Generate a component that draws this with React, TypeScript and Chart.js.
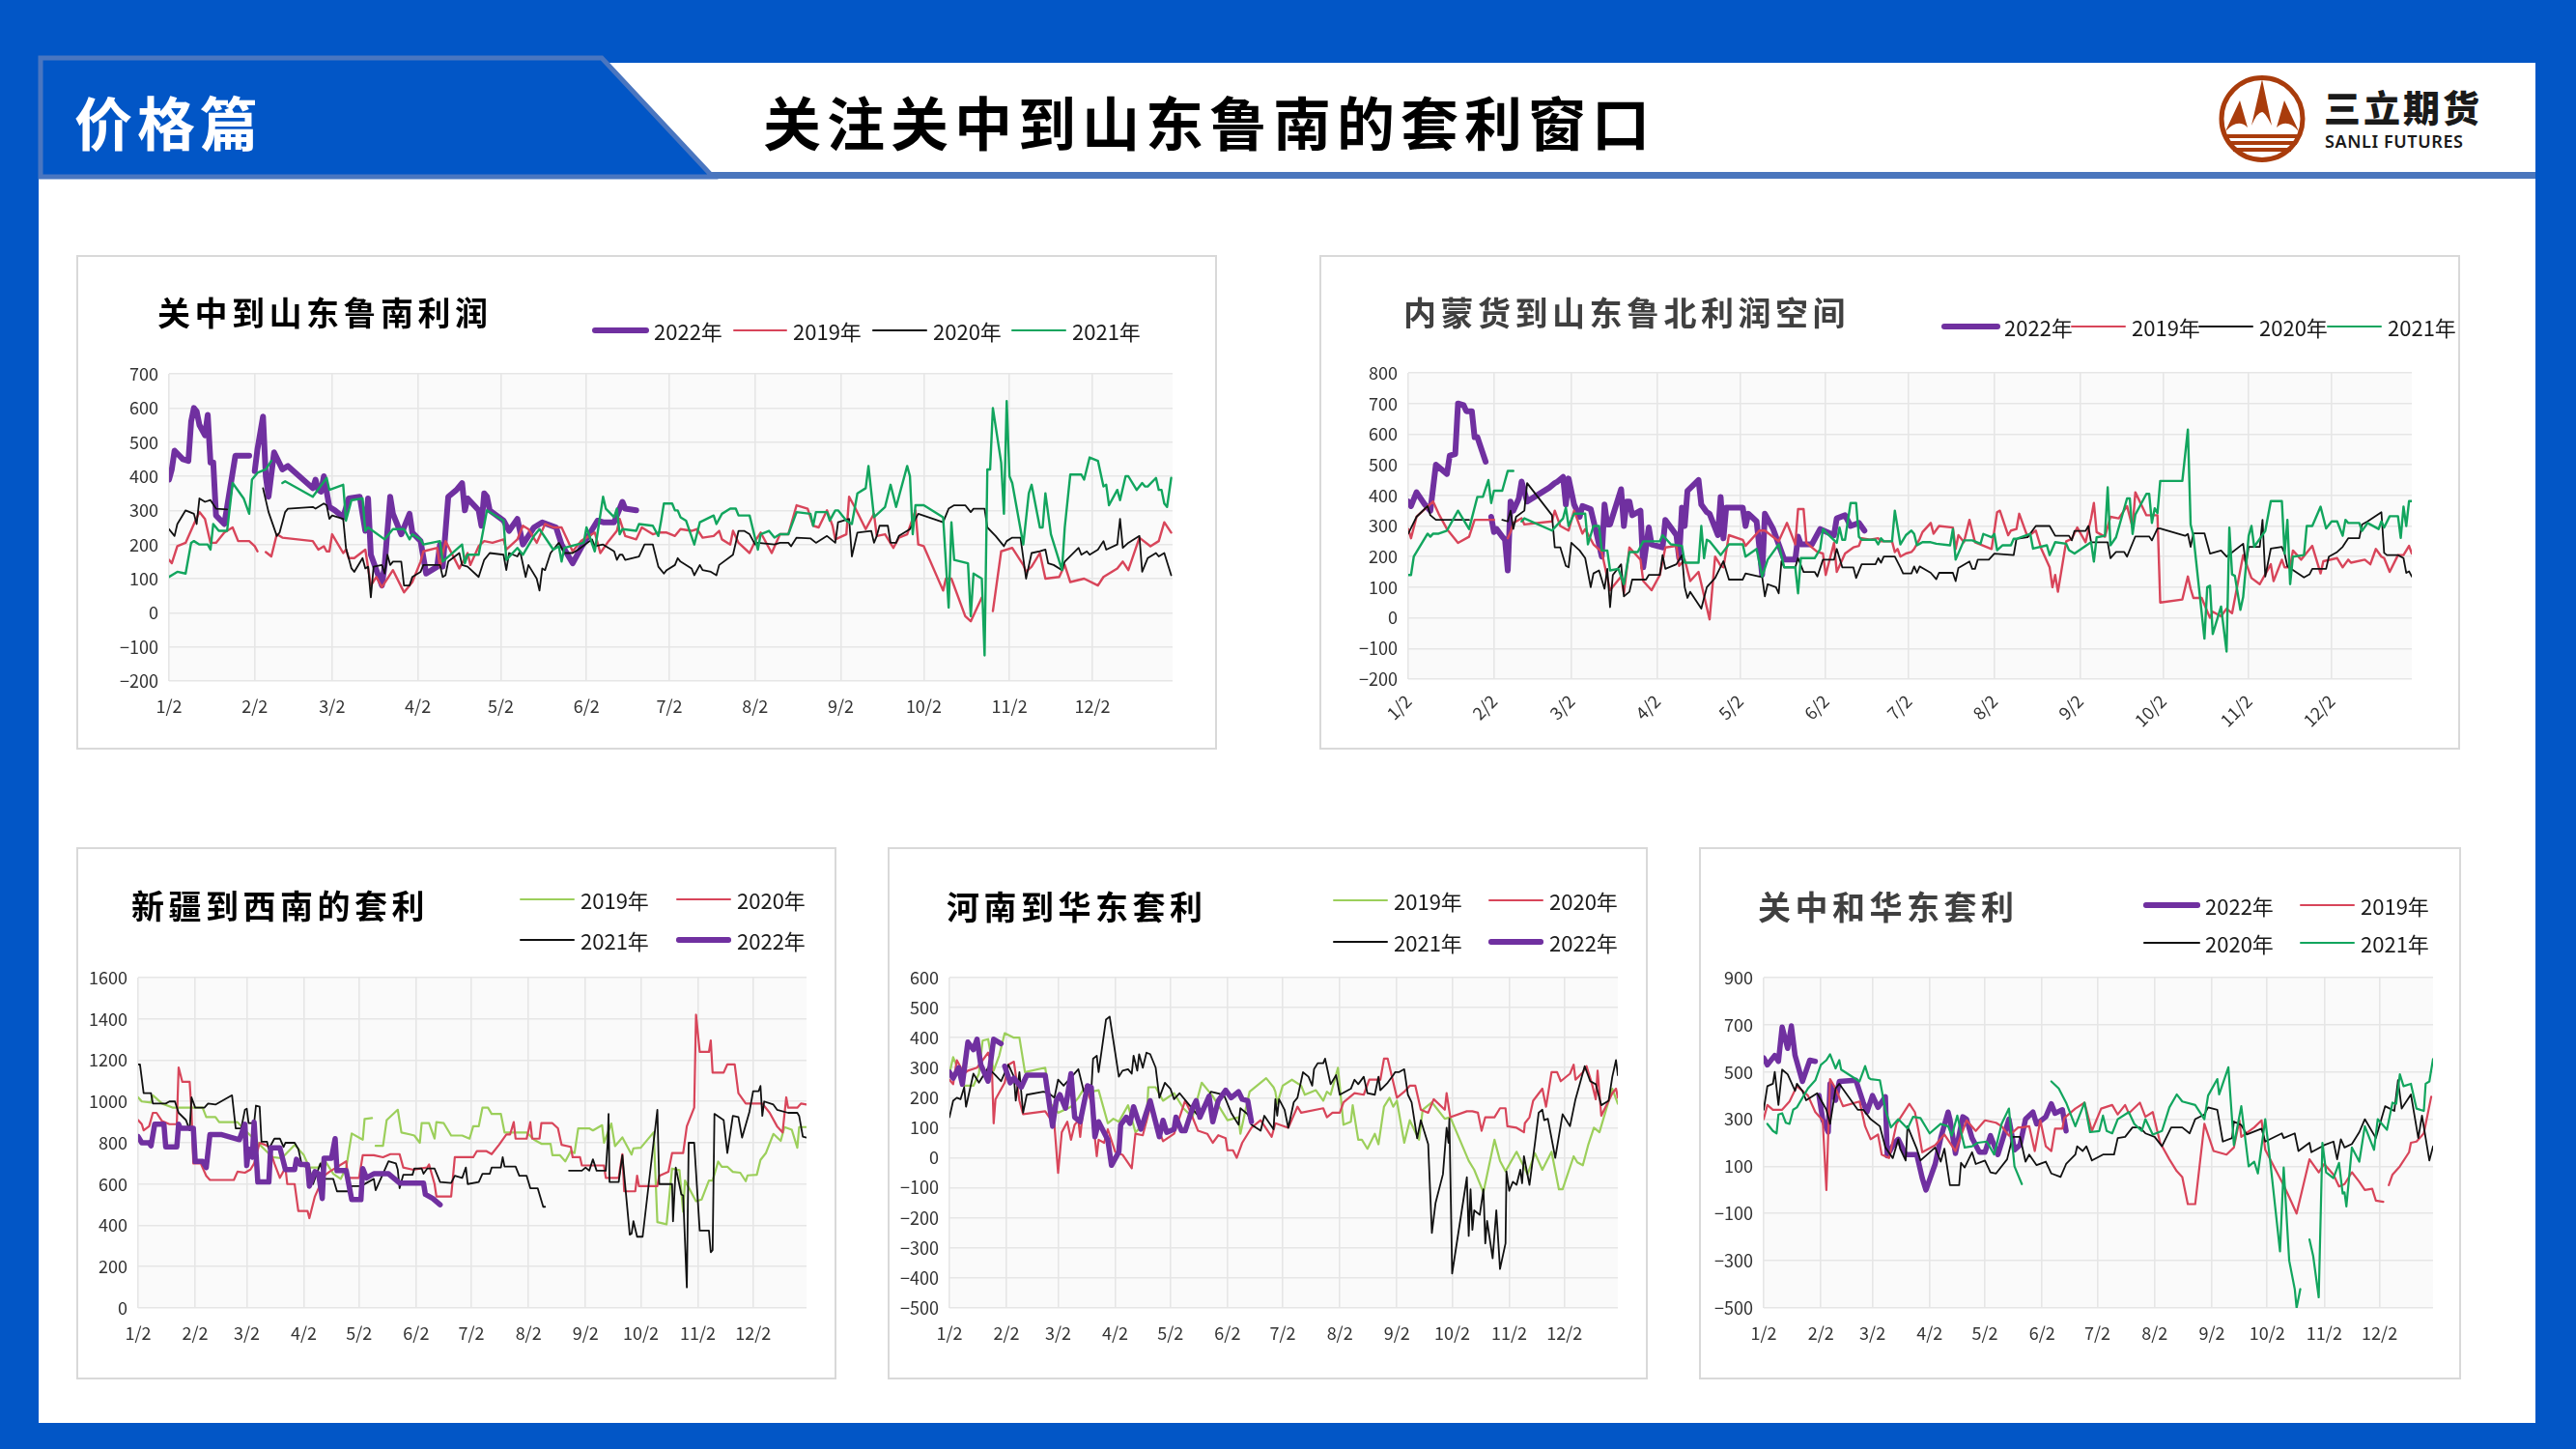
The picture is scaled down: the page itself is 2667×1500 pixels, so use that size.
import React, { useEffect, useRef } from "react";
import { Chart, registerables } from "chart.js";

Chart.register(...registerables);

type Pt = [number, number | null];

const monthDays = [0, 31, 59, 90, 120, 151, 181, 212, 243, 273, 304, 334];
const monthLabels = ["1/2", "2/2", "3/2", "4/2", "5/2", "6/2", "7/2", "8/2", "9/2", "10/2", "11/2", "12/2"];
const lastDay = 363;

const yTicksA = [-200, -100, 0, 100, 200, 300, 400, 500, 600, 700];
const yTicksB = [-200, -100, 0, 100, 200, 300, 400, 500, 600, 700, 800];
const yTicksC = [0, 200, 400, 600, 800, 1000, 1200, 1400, 1600];
const yTicksD = [-500, -400, -300, -200, -100, 0, 100, 200, 300, 400, 500, 600];
const yTicksE = [-500, -300, -100, 100, 300, 500, 700, 900];

/* ---------- 关中到山东鲁南利润 ---------- */
const a2022: Pt[] = [[0,390],[1,420],[2,475],[5,450],[7,445],[8,560],[9,600],[10,590],[11,550],[13,520],[14,580],[15,440],[16,440],[17,285],[20,260],[24,460],[29,460],[30,null],[31,415],[32,480],[34,575],[35,400],[36,340],[38,470],[41,420],[43,430],[52,365],[53,390],[54,360],[55,355],[56,400],[58,310],[60,300],[63,280],[65,335],[69,340],[71,240],[72,335],[73,170],[77,80],[78,140],[80,340],[81,290],[84,230],[87,290],[88,235],[91,210],[93,115],[97,135],[98,200],[99,135],[101,340],[104,360],[106,380],[107,300],[108,335],[112,300],[113,255],[114,350],[115,340],[116,300],[121,270],[123,240],[126,275],[128,200],[132,250],[135,265],[140,250],[142,200],[146,145],[149,190],[155,270],[157,265],[161,265],[164,325],[165,305],[169,300]];
const a2019: Pt[] = [[0,155],[1,145],[3,195],[6,205],[9,260],[11,295],[13,275],[15,205],[17,205],[20,235],[23,250],[25,210],[29,210],[31,195],[32,180],[33,null],[35,178],[37,165],[39,230],[41,220],[52,210],[54,185],[56,195],[57,180],[58,180],[59,230],[63,175],[64,185],[65,160],[67,160],[71,185],[73,80],[75,105],[77,75],[81,125],[85,60],[88,90],[91,150],[92,180],[97,190],[98,135],[100,210],[105,130],[108,175],[109,140],[112,195],[114,210],[117,205],[121,215],[122,185],[126,215],[128,255],[130,245],[133,205],[136,260],[139,250],[142,250],[146,180],[149,210],[154,235],[156,175],[159,210],[162,240],[163,275],[165,225],[169,215],[171,250],[175,230],[177,235],[180,235],[183,225],[185,245],[189,240],[191,245],[193,220],[197,225],[199,240],[200,215],[203,200],[204,240],[206,205],[210,175],[212,210],[214,235],[218,175],[221,230],[224,230],[227,315],[231,305],[233,255],[235,250],[238,300],[240,255],[241,215],[245,230],[246,340],[248,310],[252,245],[255,290],[256,225],[259,230],[262,190],[264,220],[267,230],[270,300],[271,200],[273,195],[280,65],[281,100],[283,100],[288,-10],[290,-25],[294,45],[296,null],[298,5],[301,180],[305,190],[309,140],[310,120],[312,135],[315,175],[317,100],[322,105],[324,140],[326,90],[331,100],[336,80],[338,105],[343,130],[345,150],[347,125],[351,220],[355,195],[358,210],[360,265],[362.5,235]];
const a2020: Pt[] = [[0,245],[2,225],[3,260],[6,300],[9,290],[10,260],[11,335],[13,325],[15,330],[17,305],[21,303],[28,null],[34,365],[36,295],[39,225],[40,235],[42,295],[43,305],[52,310],[53,305],[56,320],[57,315],[58,275],[59,285],[63,275],[64,190],[66,130],[67,120],[70,160],[71,130],[72,135],[73,45],[74,135],[77,140],[78,115],[79,170],[80,140],[81,150],[84,150],[85,80],[87,80],[88,105],[91,120],[92,140],[98,140],[99,105],[100,110],[101,150],[105,175],[106,140],[108,135],[112,105],[114,155],[116,175],[121,170],[122,125],[123,175],[126,165],[127,180],[129,105],[130,140],[133,100],[134,65],[135,130],[136,125],[138,175],[141,205],[143,175],[146,175],[148,185],[153,215],[154,195],[157,200],[161,180],[162,155],[163,170],[164,170],[165,155],[170,165],[172,200],[175,200],[177,135],[179,115],[180,125],[183,140],[184,160],[185,150],[189,130],[190,110],[192,140],[193,125],[196,120],[198,110],[199,140],[204,170],[206,240],[208,240],[210,230],[212,200],[213,205],[219,200],[221,205],[224,205],[225,195],[227,220],[232,218],[234,205],[238,225],[241,205],[242,265],[246,275],[247,165],[249,235],[254,240],[255,205],[256,225],[257,255],[260,255],[261,205],[263,205],[264,225],[268,245],[269,260],[271,290],[280,265],[282,305],[284,315],[288,315],[290,295],[291,305],[295,305],[296,250],[299,225],[302,195],[303,210],[305,220],[308,220],[310,100],[312,175],[315,180],[317,185],[318,145],[320,140],[323,125],[324,150],[329,190],[330,170],[332,180],[333,170],[336,185],[338,210],[339,185],[343,200],[344,275],[345,190],[347,205],[351,225],[352,120],[354,160],[357,175],[358,165],[360,175],[362.5,110]];
const a2021: Pt[] = [[0,105],[3,120],[6,115],[8,205],[9,210],[11,200],[14,200],[15,185],[16,260],[18,240],[21,240],[23,380],[27,335],[29,290],[30,390],[32,410],[35,420],[37,445],[39,null],[41,380],[42,385],[52,340],[57,395],[58,360],[63,375],[64,270],[66,330],[70,335],[71,240],[72,250],[78,215],[81,245],[85,245],[87,215],[88,230],[91,215],[92,200],[98,210],[99,150],[106,200],[107,145],[108,170],[112,170],[115,300],[121,270],[122,155],[126,190],[128,170],[132,225],[134,245],[139,185],[141,195],[142,150],[143,190],[150,205],[151,250],[154,180],[157,340],[158,305],[161,280],[162,305],[163,230],[164,245],[169,240],[170,260],[175,255],[177,225],[178,270],[179,320],[180,320],[182,320],[183,300],[184,300],[185,280],[187,270],[190,200],[192,265],[197,285],[198,260],[200,290],[203,305],[205,305],[206,285],[210,285],[213,185],[214,230],[217,240],[219,220],[221,230],[224,230],[227,295],[232,290],[233,255],[234,295],[238,295],[239,270],[241,300],[242,300],[245,270],[247,260],[249,350],[252,365],[253,430],[255,280],[259,310],[261,375],[263,310],[267,430],[268,400],[269,230],[270,315],[273,315],[280,280],[282,15],[283,265],[284,155],[289,145],[290,-10],[291,115],[294,100],[295,-125],[296,420],[297,420],[298,600],[301,440],[302,290],[303,620],[304,400],[305,380],[309,200],[311,350],[312,375],[315,250],[316,250],[317,350],[319,230],[323,125],[324,250],[326,405],[330,405],[331,390],[333,455],[336,445],[338,370],[339,375],[340,315],[343,360],[344,330],[346,400],[347,400],[350,360],[352,380],[353,370],[354,370],[357,395],[358,360],[359,360],[360,320],[361,310],[362.5,395]];

/* ---------- 内蒙货到山东鲁北利润空间 ---------- */
const b2022: Pt[] = [[0,380],[1,365],[3,410],[6,370],[8,350],[10,500],[14,470],[15,530],[17,535],[18,700],[20,695],[21,675],[23,675],[24,590],[25,590],[28,510],[29,null],[30,330],[31,280],[32,290],[34,265],[35,255],[36,155],[37,380],[38,350],[40,390],[41,445],[43,380],[51,425],[53,440],[54,445],[56,460],[57,370],[58,455],[60,370],[62,330],[63,365],[66,355],[68,280],[70,200],[71,370],[72,305],[73,305],[77,420],[78,300],[79,380],[80,380],[81,335],[84,350],[85,165],[87,295],[88,240],[92,230],[93,320],[97,270],[98,195],[99,360],[100,300],[101,415],[105,450],[106,370],[108,345],[109,340],[112,270],[113,395],[114,260],[115,360],[121,360],[122,300],[123,340],[126,315],[127,230],[128,140],[129,340],[132,290],[134,240],[136,190],[140,190],[141,265],[142,240],[146,240],[149,290],[154,270],[155,325],[158,335],[160,300],[163,310],[165,285]];
const b2019: Pt[] = [[0,290],[1,260],[3,330],[9,380],[11,340],[14,290],[18,245],[22,265],[24,320],[31,320],[33,null],[36,260],[37,280],[38,310],[41,325],[42,305],[52,315],[53,350],[55,300],[58,285],[60,350],[63,275],[64,290],[67,240],[70,215],[73,90],[77,135],[78,80],[80,230],[84,190],[85,120],[88,90],[91,140],[93,230],[97,235],[98,170],[100,190],[102,120],[105,150],[109,-5],[111,200],[113,170],[114,165],[116,270],[121,255],[122,235],[127,285],[129,285],[134,250],[137,310],[140,240],[141,355],[143,355],[144,245],[148,215],[150,210],[151,140],[154,245],[155,150],[158,210],[161,230],[163,235],[164,260],[167,255],[170,260],[171,250],[175,250],[176,215],[177,225],[178,200],[180,210],[182,215],[183,225],[185,258],[186,280],[189,310],[190,275],[192,300],[197,295],[198,225],[199,270],[201,247],[203,320],[205,247],[211,225],[213,345],[214,350],[217,270],[218,285],[220,290],[221,340],[224,265],[227,285],[229,225],[232,165],[233,100],[234,140],[235,85],[238,250],[240,258],[242,295],[245,247],[247,325],[248,375],[249,280],[252,265],[254,330],[257,325],[260,365],[262,295],[263,410],[267,335],[271,335],[272,50],[280,60],[282,135],[283,95],[284,65],[287,65],[290,0],[291,20],[294,5],[296,30],[298,15],[302,205],[305,130],[308,110],[312,175],[313,120],[316,190],[317,165],[319,165],[320,220],[323,190],[327,235],[330,145],[331,185],[336,195],[338,165],[340,190],[341,180],[346,190],[348,175],[350,225],[352,200],[353,195],[355,150],[358,205],[360,205],[362,235],[363,210]];
const b2020: Pt[] = [[0,275],[3,330],[7,365],[8,335],[10,320],[22,320],[28,null],[34,320],[36,315],[37,350],[38,290],[39,330],[42,350],[43,440],[52,335],[53,230],[55,230],[57,170],[58,165],[59,245],[62,220],[64,195],[66,100],[67,145],[69,155],[71,95],[72,160],[73,35],[74,140],[77,175],[78,70],[80,85],[81,125],[86,125],[87,140],[91,140],[92,205],[93,160],[97,175],[99,205],[100,100],[101,65],[102,85],[106,30],[108,100],[111,130],[114,185],[116,125],[121,125],[122,145],[127,135],[128,135],[129,70],[130,110],[133,100],[134,80],[135,185],[136,165],[140,165],[141,195],[143,150],[147,150],[148,135],[150,190],[154,190],[155,225],[157,165],[161,165],[162,130],[164,175],[169,175],[170,195],[171,180],[172,200],[176,200],[178,165],[179,145],[182,145],[183,168],[184,147],[185,168],[186,163],[189,147],[191,126],[192,147],[197,147],[198,120],[199,163],[203,184],[204,160],[205,160],[206,190],[210,190],[212,210],[219,205],[220,258],[224,263],[227,300],[232,300],[234,268],[239,268],[240,253],[241,284],[245,284],[246,300],[247,247],[253,247],[254,195],[256,215],[259,215],[260,200],[263,266],[268,266],[269,253],[271,292],[272,292],[281,268],[282,274],[283,232],[284,276],[288,276],[290,210],[294,220],[296,200],[302,242],[303,174],[304,232],[308,232],[309,320],[310,135],[312,226],[316,232],[317,210],[318,168],[324,132],[326,142],[327,160],[332,160],[333,200],[336,215],[338,232],[340,260],[344,260],[345,305],[347,315],[352,345],[353,212],[354,205],[358,205],[360,195],[361,147],[362,152],[363,135]];
const b2021: Pt[] = [[0,140],[1,140],[2,200],[7,275],[8,265],[9,275],[11,275],[14,285],[18,350],[22,290],[25,395],[27,395],[29,450],[30,375],[31,415],[34,415],[36,480],[38,480],[39,null],[41,315],[42,325],[52,285],[56,325],[57,360],[58,300],[60,340],[64,340],[65,240],[67,300],[69,300],[70,220],[72,220],[73,155],[76,160],[78,110],[80,215],[83,215],[85,250],[91,250],[92,270],[95,240],[99,235],[100,180],[105,180],[106,300],[107,195],[108,255],[109,250],[113,205],[116,240],[121,240],[122,200],[126,225],[128,135],[130,190],[134,240],[136,165],[140,165],[141,80],[142,195],[147,195],[149,225],[150,290],[151,280],[155,245],[156,295],[157,255],[158,255],[160,375],[162,375],[163,265],[164,255],[169,255],[170,240],[171,260],[172,250],[175,250],[176,350],[178,240],[180,270],[182,285],[183,274],[184,237],[185,242],[186,247],[189,247],[191,242],[196,237],[197,290],[198,190],[201,253],[204,253],[207,242],[208,274],[211,263],[212,274],[213,221],[215,237],[218,237],[219,258],[220,258],[225,274],[226,226],[231,237],[232,205],[234,247],[238,242],[239,221],[241,210],[247,247],[248,184],[249,263],[252,268],[253,426],[254,237],[256,263],[260,390],[261,390],[262,274],[263,337],[267,405],[268,405],[269,310],[270,358],[271,342],[272,447],[280,447],[282,615],[283,305],[284,268],[288,-68],[289,100],[290,105],[291,-53],[294,37],[296,-110],[297,295],[298,142],[299,137],[301,26],[302,68],[304,268],[305,300],[306,232],[310,284],[312,381],[316,381],[317,210],[318,320],[319,110],[320,200],[324,205],[325,300],[327,300],[330,363],[332,292],[334,315],[336,315],[338,268],[339,320],[340,310],[344,310],[345,284],[347,310],[351,290],[352,315],[353,295],[355,332],[358,332],[359,261],[360,363],[361,300],[362,381],[363,381]];

/* ---------- 新疆到西南的套利 ---------- */
const c2019: Pt[] = [[0,1020],[2,1000],[7,995],[8,1030],[13,990],[19,970],[35,970],[37,925],[42,925],[44,900],[54,900],[57,870],[65,800],[73,730],[78,725],[85,790],[90,740],[93,680],[98,680],[101,720],[106,650],[110,625],[113,680],[116,845],[121,820],[122,815],[123,915],[127,920],[128,null],[129,785],[133,785],[135,910],[141,960],[143,850],[148,840],[150,835],[153,800],[154,895],[158,895],[161,820],[162,900],[166,895],[170,835],[176,835],[180,820],[182,880],[185,880],[187,970],[190,970],[192,940],[197,940],[199,850],[211,850],[215,815],[219,795],[224,795],[225,740],[229,740],[232,710],[235,760],[237,750],[239,870],[245,870],[247,860],[252,885],[253,800],[257,893],[259,784],[263,826],[268,743],[269,773],[273,776],[280,851],[282,416],[287,405],[290,675],[294,667],[296,466],[297,617],[303,517],[306,525],[310,617],[312,617],[315,709],[317,684],[320,684],[323,659],[327,655],[330,614],[331,642],[336,645],[338,717],[341,751],[345,843],[349,809],[351,876],[355,863],[358,776],[359,876],[363,876]];
const c2020: Pt[] = [[0,910],[2,890],[3,860],[6,880],[8,945],[10,945],[13,905],[17,890],[21,890],[22,1165],[24,1095],[28,1095],[29,950],[30,700],[34,700],[37,640],[39,620],[52,620],[54,660],[58,655],[61,670],[63,700],[66,800],[69,790],[71,780],[74,700],[77,630],[80,680],[81,600],[85,600],[87,470],[92,470],[93,435],[96,540],[101,640],[104,660],[113,710],[114,630],[120,630],[122,740],[128,740],[133,730],[137,745],[142,745],[144,680],[149,670],[157,680],[158,695],[161,600],[162,540],[170,540],[172,730],[178,730],[182,730],[184,760],[189,760],[192,745],[196,790],[200,840],[202,840],[204,900],[205,820],[211,820],[213,900],[214,820],[218,820],[219,895],[225,895],[228,870],[230,790],[235,780],[236,730],[240,730],[241,690],[253,690],[254,630],[261,630],[263,745],[264,565],[270,565],[271,640],[272,590],[282,590],[283,640],[288,660],[290,750],[296,750],[298,880],[302,970],[303,1420],[305,1240],[310,1240],[311,1295],[312,1140],[318,1140],[320,1180],[324,1180],[326,1040],[330,990],[339,990],[343,945],[347,880],[350,850],[352,1020],[353,970],[358,970],[360,990],[363,985]];
const c2021: Pt[] = [[0,1180],[1,1180],[3,1040],[7,1040],[8,990],[15,990],[17,1000],[20,1000],[22,945],[26,910],[28,860],[29,1020],[31,970],[36,970],[38,990],[42,985],[51,1030],[53,870],[56,870],[58,960],[59,965],[60,895],[63,895],[64,980],[66,975],[67,805],[70,805],[71,770],[74,820],[77,820],[79,780],[80,800],[85,800],[87,770],[89,690],[93,680],[95,600],[99,700],[101,625],[106,625],[108,565],[114,565],[116,590],[121,590],[128,625],[129,570],[136,710],[140,700],[141,670],[142,580],[144,645],[149,645],[150,675],[154,675],[155,650],[157,675],[161,675],[164,610],[170,605],[172,640],[176,630],[178,680],[179,600],[185,610],[187,650],[191,650],[192,680],[197,680],[198,730],[199,685],[205,685],[207,640],[211,640],[213,580],[217,580],[220,490],[221,490],[228,null],[234,665],[241,665],[243,680],[245,665],[247,720],[249,665],[254,665],[255,800],[255.5,940],[256,610],[261,610],[263,740],[267,355],[268,360],[269,420],[271,345],[274,345],[282,960],[283,600],[290,600],[290.5,420],[292,680],[295,550],[296,545],[298,100],[299,800],[302,800],[305,375],[310,375],[311,270],[312,280],[313,940],[318,910],[320,750],[323,930],[326,925],[328,825],[332,950],[334,1050],[337,1050],[338,1075],[339,930],[340,1000],[345,985],[347,960],[353,945],[358,945],[359,930],[361,830],[363,825]];
const c2022: Pt[] = [[0,830],[2,800],[6,800],[7,785],[9,890],[14,890],[15,780],[21,780],[22,890],[23,870],[30,870],[31,710],[35,710],[37,680],[39,840],[45,840],[55,815],[58,890],[59,690],[60,770],[62,730],[63,900],[65,610],[71,610],[72,775],[77,775],[80,670],[85,670],[86,720],[88,695],[92,695],[93,590],[96,660],[98,650],[100,530],[101,725],[105,725],[107,820],[108,665],[113,665],[116,525],[121,525],[122,675],[124,630],[128,650],[136,650],[142,605],[155,605],[156,550],[160,530],[164,500]];

/* ---------- 河南到华东套利 ---------- */
const d2019: Pt[] = [[0,280],[2,335],[5,290],[8,240],[13,240],[16,280],[18,390],[21,395],[24,290],[27,340],[30,415],[35,400],[38,400],[41,285],[52,300],[55,180],[59,150],[66,170],[70,200],[73,230],[77,220],[81,225],[86,115],[89,130],[92,120],[97,175],[101,85],[107,120],[108,235],[112,235],[116,190],[122,215],[127,165],[132,135],[137,250],[141,220],[143,205],[151,125],[157,135],[158,80],[161,165],[163,220],[172,265],[176,235],[177,220],[178,180],[181,240],[186,260],[191,240],[193,210],[199,225],[203,190],[205,220],[207,210],[211,300],[214,110],[218,120],[219,175],[222,60],[224,60],[227,30],[231,80],[233,45],[236,170],[239,200],[241,170],[243,190],[247,50],[250,125],[255,60],[257,160],[262,185],[269,130],[272,135],[282,-10],[285,-40],[290,-115],[296,60],[299,-10],[302,-45],[308,20],[314,-55],[318,15],[322,-40],[327,20],[331,-105],[333,-105],[339,5],[341,-15],[344,-25],[347,45],[350,100],[353,85],[360,230],[363,180]];
const d2020: Pt[] = [[0,260],[2,245],[4,325],[8,280],[10,290],[15,300],[21,350],[23,310],[24,115],[25,195],[30,250],[32,310],[35,320],[38,190],[40,145],[52,155],[57,110],[59,-50],[61,85],[64,120],[66,60],[68,110],[70,125],[71,70],[74,240],[77,185],[80,5],[81,60],[84,50],[86,95],[90,20],[94,10],[99,-35],[101,80],[105,75],[109,170],[116,55],[122,80],[128,190],[130,165],[135,90],[140,80],[143,50],[146,75],[150,65],[151,25],[154,25],[156,0],[159,50],[164,100],[169,125],[175,70],[177,115],[184,100],[189,170],[191,150],[203,165],[205,135],[208,150],[212,150],[214,185],[220,215],[225,210],[228,260],[234,260],[236,330],[238,330],[243,200],[247,220],[250,240],[253,240],[256,160],[260,150],[263,195],[269,160],[270,215],[272,135],[281,155],[284,155],[287,150],[289,90],[291,135],[296,135],[299,165],[302,165],[303,105],[308,100],[312,85],[312.5,115],[315,135],[317,190],[322,230],[324,170],[327,285],[330,285],[332,255],[337,280],[339,310],[340,260],[344,285],[346,305],[349,245],[351,195],[352,290],[354,140],[360,215],[362,230],[363,200]];
const d2021: Pt[] = [[0,135],[2,190],[4,200],[6,195],[8,235],[9,170],[13,280],[16,250],[19,280],[21,300],[25,275],[28,255],[32,310],[35,270],[36,190],[38,285],[40,150],[42,210],[51,220],[54,215],[57,200],[59,260],[62,240],[70,295],[73,220],[77,220],[78,330],[80,340],[81,285],[85,460],[87,470],[90,350],[92,270],[94,290],[97,295],[99,280],[100,340],[102,290],[103,345],[105,300],[107,350],[109,345],[112,300],[114,200],[117,250],[120,230],[122,195],[125,215],[131,170],[135,140],[142,220],[149,210],[153,150],[157,110],[158,165],[162,145],[164,110],[169,90],[171,140],[176,95],[177,195],[178,140],[179,195],[182,160],[184,100],[187,185],[189,200],[192,285],[195,270],[197,240],[198,295],[200,315],[203,315],[204,330],[207,245],[210,275],[212,210],[218,230],[220,260],[222,245],[225,270],[227,215],[231,210],[233,270],[234,225],[238,250],[241,275],[242,285],[244,285],[247,295],[249,210],[251,185],[254,65],[256,125],[260,45],[262,-250],[264,-150],[268,-55],[270,100],[271,50],[271.5,130],[273,-385],[281,-65],[282,-260],[283,-105],[284,-240],[285,-175],[288,-190],[290,-105],[291,-285],[292,-210],[295,-335],[297,-175],[299,-370],[302,-285],[302.5,-45],[304,-110],[306,-80],[308,-90],[310,-40],[311,-85],[312,5],[315,-90],[318,50],[320,150],[322,160],[323,125],[325,130],[329,0],[333,145],[337,105],[340,195],[345,305],[348,255],[351,245],[354,175],[358,190],[360,270],[362,325],[363,275]];
const d2022: Pt[] = [[0,285],[2,265],[5,300],[7,245],[10,385],[13,360],[15,395],[17,310],[21,255],[24,395],[28,380],[29,null],[30,305],[33,250],[35,265],[39,235],[42,275],[52,275],[54,190],[56,105],[58,190],[60,210],[63,165],[66,280],[68,135],[71,120],[75,240],[77,235],[79,70],[81,120],[86,60],[88,-25],[92,20],[93,110],[96,135],[98,115],[100,170],[104,95],[109,190],[114,70],[116,125],[118,85],[122,95],[123,135],[126,90],[128,90],[132,165],[134,190],[136,135],[141,205],[143,120],[146,190],[150,225],[153,200],[157,220],[159,195],[162,190],[164,120]];

/* ---------- 关中和华东套利 ---------- */
const e2022: Pt[] = [[0,560],[2,530],[6,570],[8,545],[10,690],[13,600],[15,695],[17,570],[21,460],[25,550],[28,545],[29,null],[30,400],[32,300],[35,245],[36,450],[39,380],[41,460],[50,465],[54,370],[56,330],[59,400],[62,350],[66,395],[67,145],[71,200],[73,215],[77,150],[83,150],[86,50],[88,0],[93,110],[96,220],[100,330],[101,300],[104,155],[108,310],[110,300],[113,220],[117,160],[120,160],[123,230],[127,150],[133,300],[136,170],[139,190],[142,300],[146,330],[148,280],[153,310],[156,365],[158,325],[162,340],[164,250]];
const e2019: Pt[] = [[0,300],[2,360],[5,340],[10,340],[14,375],[18,440],[24,400],[28,330],[32,295],[34,0],[36,470],[39,430],[43,355],[52,375],[55,270],[58,215],[62,235],[64,150],[68,135],[72,280],[79,365],[82,330],[84,250],[86,160],[93,190],[98,235],[104,165],[110,295],[115,250],[120,295],[126,285],[129,270],[133,230],[138,265],[140,265],[144,270],[147,165],[150,295],[153,185],[156,165],[158,260],[162,260],[163,305],[169,345],[174,370],[178,250],[183,345],[189,360],[192,320],[196,360],[198,325],[204,370],[207,310],[211,330],[215,200],[220,130],[224,80],[227,55],[230,-60],[234,-60],[239,280],[244,165],[251,150],[255,180],[258,295],[259,225],[266,265],[270,295],[272,170],[282,20],[285,-30],[289,-100],[296,130],[301,75],[304,110],[309,65],[312,15],[315,25],[319,75],[323,35],[326,0],[330,5],[332,-45],[336,-50],[338,null],[339,20],[341,65],[345,100],[350,160],[351,200],[354,205],[358,240],[362,395]];
const e2020: Pt[] = [[0,340],[2,440],[5,450],[6,500],[8,360],[10,510],[13,490],[17,420],[18,450],[21,420],[23,380],[29,410],[34,340],[36,280],[39,430],[41,450],[51,340],[54,340],[58,300],[63,270],[66,180],[70,135],[73,215],[74,175],[77,125],[78,270],[83,175],[85,125],[93,180],[96,120],[98,175],[101,20],[106,20],[107,115],[109,95],[113,160],[115,110],[120,125],[123,75],[126,70],[132,130],[135,225],[139,225],[142,120],[144,150],[148,105],[153,120],[156,70],[161,55],[164,110],[169,150],[170,185],[173,165],[175,185],[178,125],[184,150],[190,150],[192,220],[196,225],[200,265],[204,265],[207,240],[212,225],[216,185],[221,265],[227,265],[231,240],[234,300],[239,320],[241,350],[246,340],[249,205],[254,220],[255,290],[259,275],[262,235],[270,260],[272,205],[281,240],[282,220],[288,240],[290,165],[296,200],[297,160],[304,190],[309,205],[311,130],[313,215],[315,180],[319,195],[323,245],[326,300],[332,220],[337,355],[342,335],[344,465],[346,345],[351,405],[355,220],[357,315],[361,125],[363,185]];
const e2021: Pt[] = [[2,280],[5,250],[7,240],[8,320],[10,325],[12,285],[14,280],[16,340],[18,350],[24,430],[28,465],[31,530],[34,550],[36,575],[39,515],[41,550],[42,510],[52,460],[55,525],[57,475],[58,470],[63,465],[66,340],[69,265],[73,300],[78,260],[81,310],[85,305],[90,240],[96,280],[100,270],[102,230],[105,315],[109,180],[113,185],[116,200],[121,205],[125,150],[129,280],[133,345],[136,100],[140,25],[148,null],[156,460],[160,430],[164,370],[169,270],[174,370],[177,245],[182,250],[184,315],[186,250],[189,240],[192,300],[198,330],[201,280],[205,250],[207,300],[211,235],[216,250],[220,350],[224,405],[227,375],[234,360],[239,300],[241,400],[246,470],[247,405],[252,520],[254,300],[255,190],[259,355],[263,100],[266,120],[268,70],[272,300],[275,100],[280,-260],[282,95],[285,-300],[288,-420],[289,-500],[291,-420],[293,null],[296,-210],[298,-280],[301,-455],[303,200],[305,75],[309,50],[312,115],[314,-15],[315,-10],[316,-70],[319,180],[323,120],[326,270],[331,170],[333,300],[338,255],[341,370],[343,365],[345,490],[347,440],[351,450],[354,345],[358,335],[359,450],[361,460],[363,555]];

const yearNames = { y19: "2019年", y20: "2020年", y21: "2021年", y22: "2022年" };

/* ---------- styles ---------- */
const PURPLE = "#7030a0";
const RED = "#d8455a";
const BLACK = "#111111";
const GREEN = "#12a55e";
const LIME = "#9ccf5b";
const NUM_FONT = '"Liberation Sans Narrow", "Noto Sans CJK SC", sans-serif';
const CJK_FONT = '"Noto Sans CJK SC", sans-serif';

type SeriesDef = { label: string; data: Pt[]; color: string; width: number };
type LegendPos = { x1: number; x2: number; tx: number; y: number };
type PanelDef = {
  title: string; titleColor: string; titleX: number; titleY: number;
  box: [number, number, number, number];
  plot: [number, number, number, number];
  yTicks: number[]; rotate: boolean;
  series: SeriesDef[]; legend: LegendPos[];
};

const rowLegend = (items: [number, number, number][], y: number): LegendPos[] =>
  items.map(([x1, x2, tx]) => ({ x1, x2, tx, y }));

const panels: PanelDef[] = [
  {
    title: "关中到山东鲁南利润", titleColor: "#000", titleX: 163, titleY: 323,
    box: [79, 264, 1260, 776], plot: [175, 387, 1214, 705], yTicks: yTicksA, rotate: false,
    series: [
      { label: yearNames.y22, data: a2022, color: PURPLE, width: 6 },
      { label: yearNames.y19, data: a2019, color: RED, width: 2.4 },
      { label: yearNames.y20, data: a2020, color: BLACK, width: 1.8 },
      { label: yearNames.y21, data: a2021, color: GREEN, width: 2.4 },
    ],
    legend: rowLegend([[613, 672, 677], [759, 815, 821], [903, 960, 966], [1047, 1104, 1110]], 342),
  },
  {
    title: "内蒙货到山东鲁北利润空间", titleColor: "#404040", titleX: 1453, titleY: 323,
    box: [1366, 264, 2547, 776], plot: [1458, 386, 2497, 703], yTicks: yTicksB, rotate: true,
    series: [
      { label: yearNames.y22, data: b2022, color: PURPLE, width: 6 },
      { label: yearNames.y19, data: b2019, color: RED, width: 2.4 },
      { label: yearNames.y20, data: b2020, color: BLACK, width: 1.8 },
      { label: yearNames.y21, data: b2021, color: GREEN, width: 2.4 },
    ],
    legend: rowLegend([[2010, 2071, 2075], [2144, 2201, 2207], [2276, 2333, 2339], [2409, 2466, 2472]], 338),
  },
  {
    title: "新疆到西南的套利", titleColor: "#000", titleX: 136, titleY: 937,
    box: [79, 877, 866, 1428], plot: [143, 1012, 835, 1354], yTicks: yTicksC, rotate: false,
    series: [
      { label: yearNames.y19, data: c2019, color: LIME, width: 2.2 },
      { label: yearNames.y20, data: c2020, color: RED, width: 2.2 },
      { label: yearNames.y21, data: c2021, color: BLACK, width: 1.8 },
      { label: yearNames.y22, data: c2022, color: PURPLE, width: 5.5 },
    ],
    legend: [
      ...rowLegend([[538, 595, 601], [700, 757, 763]], 931),
      ...rowLegend([[538, 595, 601], [700, 757, 763]], 973),
    ],
  },
  {
    title: "河南到华东套利", titleColor: "#000", titleX: 980, titleY: 938,
    box: [919, 877, 1706, 1428], plot: [983, 1012, 1675, 1354], yTicks: yTicksD, rotate: false,
    series: [
      { label: yearNames.y19, data: d2019, color: LIME, width: 2.2 },
      { label: yearNames.y20, data: d2020, color: RED, width: 2.2 },
      { label: yearNames.y21, data: d2021, color: BLACK, width: 1.8 },
      { label: yearNames.y22, data: d2022, color: PURPLE, width: 5.5 },
    ],
    legend: [
      ...rowLegend([[1380, 1437, 1443], [1541, 1598, 1604]], 932),
      ...rowLegend([[1380, 1437, 1443], [1541, 1598, 1604]], 975),
    ],
  },
  {
    title: "关中和华东套利", titleColor: "#404040", titleX: 1820, titleY: 938,
    box: [1759, 877, 2548, 1428], plot: [1826, 1012, 2519, 1354], yTicks: yTicksE, rotate: false,
    series: [
      { label: yearNames.y22, data: e2022, color: PURPLE, width: 5.5 },
      { label: yearNames.y19, data: e2019, color: RED, width: 2.2 },
      { label: yearNames.y20, data: e2020, color: BLACK, width: 1.8 },
      { label: yearNames.y21, data: e2021, color: GREEN, width: 2.2 },
    ],
    legend: [
      ...rowLegend([[2219, 2278, 2283], [2381, 2438, 2444]], 937),
      ...rowLegend([[2219, 2278, 2283], [2381, 2438, 2444]], 976),
    ],
  },
];

const plotBackground = {
  id: "plotBackground",
  beforeDatasetsDraw() {},
  beforeDraw(chart: any) {
    const { ctx, chartArea: a } = chart;
    ctx.save();
    ctx.fillStyle = "#fafafa";
    ctx.fillRect(a.left, a.top, a.right - a.left, a.bottom - a.top);
    ctx.restore();
  },
};

function ChartPanel({ def }: { def: PanelDef }) {
  const ref = useRef<HTMLCanvasElement | null>(null);
  const [bx0, by0, bx1, by1] = def.box;
  const [px0, py0, px1, py1] = def.plot;
  useEffect(() => {
    const n = def.series.length;
    const chart = new Chart(ref.current as HTMLCanvasElement, {
      type: "line",
      data: {
        datasets: def.series.map((s, i) => ({
          label: s.label,
          data: s.data.map(([x, y]) => ({ x, y })),
          borderColor: s.color,
          backgroundColor: s.color,
          borderWidth: s.width,
          pointRadius: 0,
          tension: 0,
          spanGaps: false,
          fill: false,
          borderJoinStyle: "round",
          borderCapStyle: "round",
          order: n - i,
        })),
      },
      options: {
        animation: false,
        responsive: false,
        maintainAspectRatio: false,
        layout: { padding: { left: 0, top: py0 - by0, right: bx1 - px1, bottom: 0 } },
        plugins: { legend: { display: false }, title: { display: false }, tooltip: { enabled: false } },
        scales: {
          x: {
            type: "linear",
            min: 0,
            max: lastDay,
            afterBuildTicks: (s: any) => { s.ticks = monthDays.map((value) => ({ value })); },
            afterFit: (s: any) => { s.height = by1 - py1; },
            grid: { color: "#e6e6e6", lineWidth: 1.6, drawTicks: false },
            border: { display: false },
            ticks: {
              autoSkip: false,
              maxRotation: def.rotate ? 45 : 0,
              minRotation: def.rotate ? 45 : 0,
              padding: def.rotate ? 12 : 15,
              color: "#333333",
              font: { family: NUM_FONT, size: 18 },
              callback: (v: any) => monthLabels[monthDays.indexOf(Number(v))] ?? "",
            },
          },
          y: {
            min: def.yTicks[0],
            max: def.yTicks[def.yTicks.length - 1],
            afterBuildTicks: (s: any) => { s.ticks = def.yTicks.map((value) => ({ value })); },
            afterFit: (s: any) => { s.width = px0 - bx0; },
            grid: { color: "#e6e6e6", lineWidth: 1.6, drawTicks: false },
            border: { display: false },
            ticks: {
              padding: 11,
              color: "#333333",
              font: { family: NUM_FONT, size: 18 },
              callback: (v: any) => (Number(v) < 0 ? "\u2212" + Math.abs(Number(v)) : String(v)),
            },
          },
        },
      } as any,
      plugins: [plotBackground],
    });
    return () => chart.destroy();
  }, [def]);

  return (
    <>
      <div style={{ position: "absolute", left: bx0, top: by0, width: bx1 - bx0, height: by1 - by0, boxSizing: "border-box", border: "2.5px solid #d9d9d9", background: "#fff" }} />
      <canvas ref={ref} width={bx1 - bx0} height={by1 - by0} style={{ position: "absolute", left: bx0, top: by0, width: bx1 - bx0, height: by1 - by0, display: "block" }} />
      <div style={{ position: "absolute", left: def.titleX, top: def.titleY - 25, height: 50, lineHeight: "50px", fontFamily: CJK_FONT, fontWeight: 700, fontSize: 34, letterSpacing: 4.5, color: def.titleColor, whiteSpace: "nowrap" }}>{def.title}</div>
      {def.legend.map((l, i) => {
        const s = def.series[i];
        return (
          <React.Fragment key={i}>
            <div style={{ position: "absolute", left: l.x1, top: l.y - s.width / 2, width: l.x2 - l.x1, height: s.width, background: s.color, borderRadius: s.width / 2 }} />
            <div style={{ position: "absolute", left: l.tx, top: l.y - 16, height: 32, lineHeight: "32px", fontFamily: NUM_FONT, fontSize: 22, color: "#1a1a1a", whiteSpace: "nowrap" }}>{s.label}</div>
          </React.Fragment>
        );
      })}
    </>
  );
}

function Logo() {
  return (
    <svg style={{ position: "absolute", left: 2290, top: 72 }} width={110} height={104} viewBox="0 0 110 104">
      <ellipse cx={52} cy={51} rx={42} ry={42.5} fill="#fff" stroke="#a93c0c" strokeWidth={5} />
      <path d="M52 10 L62 58 Q55 44 52 44 Q47 44 41 58 Z" fill="#a93c0c" />
      <path d="M29 32 L37 60 Q27 50 14 64 Z" fill="#a93c0c" />
      <path d="M75 32 L90 64 Q78 50 67 60 Z" fill="#a93c0c" />
      <rect x={13} y={67} width={78} height={4} fill="#a93c0c" />
      <rect x={16} y={74} width={72} height={4} fill="#a93c0c" />
      <rect x={22} y={81} width={60} height={4} fill="#a93c0c" />
    </svg>
  );
}

export default function App() {
  return (
    <div style={{ position: "fixed", left: 0, top: 0, width: 2667, height: 1500, overflow: "hidden", background: "#0256c6" }}>
      <div style={{ position: "absolute", left: 40, top: 65, width: 2585, height: 1408, background: "#fff" }} />
      <div style={{ position: "absolute", left: 735, top: 178, width: 1890, height: 7, background: "#4a76bd" }} />
      <svg style={{ position: "absolute", left: 0, top: 0 }} width={800} height={200}>
        <polygon points="42,60 623,60 738,183 42,183" fill="#0256c6" stroke="#4a76c0" strokeWidth={5} />
      </svg>
      <div style={{ position: "absolute", left: 77, top: 85, height: 80, lineHeight: "80px", fontFamily: CJK_FONT, fontWeight: 700, fontSize: 60, letterSpacing: 5, color: "#fff", whiteSpace: "nowrap" }}>价格篇</div>
      <div style={{ position: "absolute", left: 790, top: 85, height: 80, lineHeight: "80px", fontFamily: CJK_FONT, fontWeight: 700, fontSize: 60, letterSpacing: 6, color: "#000", whiteSpace: "nowrap" }}>关注关中到山东鲁南的套利窗口</div>
      <Logo />
      <div style={{ position: "absolute", left: 2406, top: 85, height: 50, lineHeight: "50px", fontFamily: CJK_FONT, fontWeight: 900, fontSize: 38, letterSpacing: 3, color: "#1a1a1a", whiteSpace: "nowrap" }}>三立期货</div>
      <div style={{ position: "absolute", left: 2407, top: 134, height: 24, lineHeight: "24px", fontFamily: '"Noto Sans", sans-serif', fontWeight: 600, fontSize: 18, letterSpacing: 0.6, color: "#1a1a1a", whiteSpace: "nowrap" }}>SANLI FUTURES</div>
      {panels.map((p, i) => <ChartPanel key={i} def={p} />)}
    </div>
  );
}
